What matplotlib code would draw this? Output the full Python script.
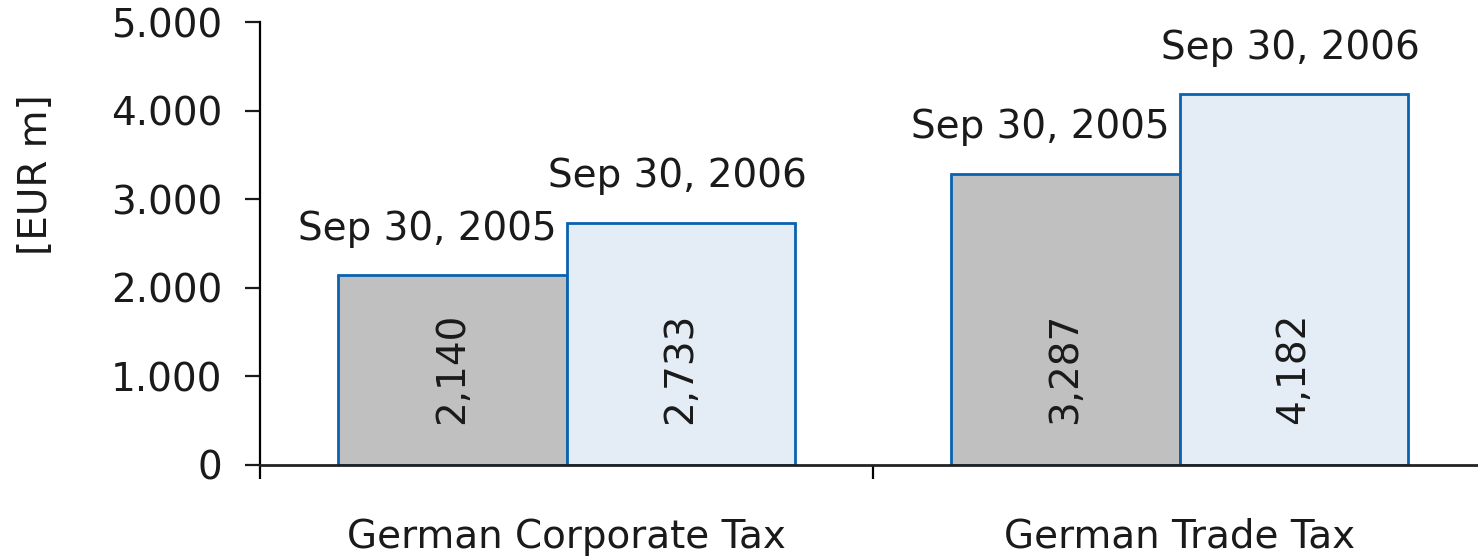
import numpy as np
import matplotlib
matplotlib.use("Agg")
import matplotlib.pyplot as plt
from matplotlib.ticker import FuncFormatter, FixedLocator

# data
categories = ["German Corporate Tax", "German Trade Tax"]
series_names = ["Sep 30, 2005", "Sep 30, 2006"]
vals_2005 = [2140, 3287]
vals_2006 = [2733, 4182]
value_labels_2005 = ["2,140", "3,287"]
value_labels_2006 = ["2,733", "4,182"]
yticks = [0, 1000, 2000, 3000, 4000, 5000]

grey = "#c0c0c0"
light_blue = "#e4edf6"
edge_blue = "#0a62b0"
txt = "#1a1a1a"

plt.rcParams['font.family'] = ['DejaVu Sans']

fig = plt.figure(figsize=(14.78, 5.56), dpi=100)
ax = fig.add_axes([260/1478, 91/556, 1 - 260/1478, (465-22)/556])

x = np.arange(len(categories))
w = 0.372

b1 = ax.bar(x - w/2, vals_2005, w, color=grey, edgecolor=edge_blue, linewidth=2.0, zorder=2)
b2 = ax.bar(x + w/2, vals_2006, w, color=light_blue, edgecolor=edge_blue, linewidth=2.0, zorder=2)

fs = 28
# series names above bars
for bars, name, dx in [(b1, series_names[0], -18), (b2, series_names[1], -2)]:
    for r in bars:
        ax.annotate(name, (r.get_x() + r.get_width()/2, r.get_height()),
                    xytext=(dx, 20), textcoords="offset points",
                    ha="center", va="bottom", fontsize=fs, color=txt)

# values rotated inside bars
for bars, labs in [(b1, value_labels_2005), (b2, value_labels_2006)]:
    for r, lab in zip(bars, labs):
        ax.text(r.get_x() + r.get_width()/2, 1090, lab, rotation=90,
                ha="center", va="center", fontsize=fs, color=txt)

ax.set_ylim(0, 5000)
ax.set_xlim(-0.5, -0.5 + 1218/613)
ax.set_yticks(yticks)
ax.yaxis.set_major_formatter(FuncFormatter(lambda v, p: f"{int(v):,}".replace(",", ".")))
ax.tick_params(axis="y", direction="out", length=11, width=1.6, pad=16,
               labelsize=fs, colors=txt)

ax.set_xticks(x)
ax.set_xticklabels(categories)
ax.xaxis.set_minor_locator(FixedLocator([-0.5, 0.5, 1.5]))
ax.tick_params(axis="x", which="major", length=0, pad=38, labelsize=fs, colors=txt)
ax.tick_params(axis="x", which="minor", direction="out", length=10, width=1.6)

ax.set_ylabel("[EUR m]", fontsize=fs, color=txt)
ax.yaxis.set_label_coords(-0.168, 0.655)

for s in ["top", "right"]:
    ax.spines[s].set_visible(False)
ax.spines["left"].set_linewidth(1.6)
ax.spines["bottom"].set_linewidth(2.0)
ax.spines["bottom"].set_color("#222222")
ax.spines["bottom"].set_zorder(3)

fig.savefig("out.png", dpi=100)
